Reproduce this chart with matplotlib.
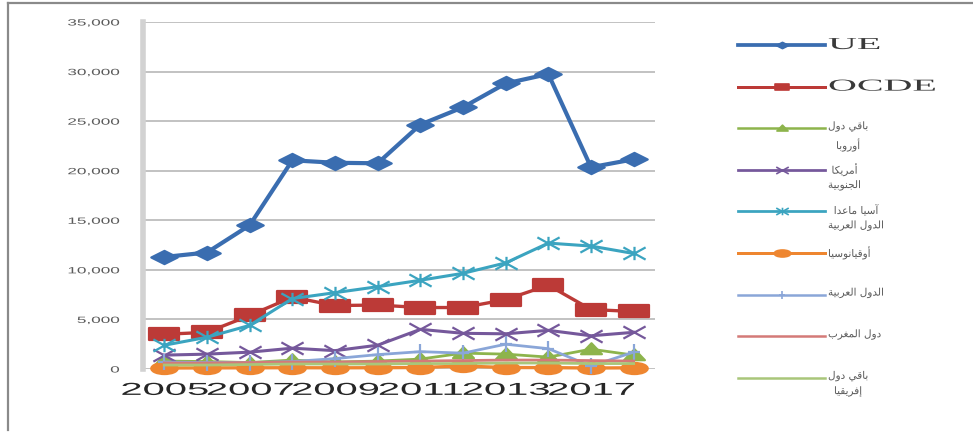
import matplotlib
matplotlib.use("Agg")
import matplotlib.pyplot as plt
from matplotlib.path import Path
from matplotlib.transforms import Affine2D
from matplotlib.patheffects import AbstractPathEffect
from matplotlib.lines import Line2D
from matplotlib.ticker import StrMethodFormatter

# data
years = ["2005", "2006", "2007", "2008", "2009", "2010", "2011", "2012",
         "2013", "2014", "2017", "2018"]
ue = [11300, 11750, 14500, 21050, 20800, 20750, 24650, 26400, 28800, 29750, 20350, 21150]
ocde = [3500, 3700, 5400, 7250, 6400, 6450, 6200, 6200, 7000, 8450, 6000, 5800]
europe_rest = [800, 750, 650, 900, 700, 800, 1000, 1600, 1500, 1200, 2000, 1400]
south_america = [1400, 1500, 1700, 2100, 1850, 2400, 4000, 3600, 3550, 3900, 3350, 3700]
asia = [2400, 3200, 4400, 7100, 7700, 8300, 8950, 9650, 10700, 12700, 12400, 11650]
oceania = [100, 110, 120, 130, 120, 130, 150, 300, 150, 140, 100, 120]
arab = [700, 650, 650, 750, 1050, 1450, 1750, 1600, 2500, 2050, 300, 1700]
maghreb = [600, 600, 650, 700, 700, 750, 800, 850, 900, 900, 850, 800]
africa_rest = [400, 400, 450, 500, 500, 500, 550, 550, 600, 600, 550, 550]

labels = ["UE", "OCDE", "باقي دول\nأوروبا", "أمريكا\nالجنوبية",
          "آسيا ماعدا\nالدول العربية", "أوقيانوسيا", "الدول العربية",
          "دول المغرب", "باقي دول\nإفريقيا"]

# arabic shaping (presentation forms, visual order) since matplotlib has no bidi
FORMS = {
    "ا": (0xFE8D, 0xFE8E, None, None), "أ": (0xFE83, 0xFE84, None, None),
    "آ": (0xFE81, 0xFE82, None, None), "إ": (0xFE87, 0xFE88, None, None),
    "ب": (0xFE8F, 0xFE90, 0xFE91, 0xFE92), "ة": (0xFE93, 0xFE94, None, None),
    "ج": (0xFE9D, 0xFE9E, 0xFE9F, 0xFEA0), "د": (0xFEA9, 0xFEAA, None, None),
    "ر": (0xFEAD, 0xFEAE, None, None), "س": (0xFEB1, 0xFEB2, 0xFEB3, 0xFEB4),
    "ع": (0xFEC9, 0xFECA, 0xFECB, 0xFECC), "غ": (0xFECD, 0xFECE, 0xFECF, 0xFED0),
    "ف": (0xFED1, 0xFED2, 0xFED3, 0xFED4), "ق": (0xFED5, 0xFED6, 0xFED7, 0xFED8),
    "ك": (0xFED9, 0xFEDA, 0xFEDB, 0xFEDC), "ل": (0xFEDD, 0xFEDE, 0xFEDF, 0xFEE0),
    "م": (0xFEE1, 0xFEE2, 0xFEE3, 0xFEE4), "ن": (0xFEE5, 0xFEE6, 0xFEE7, 0xFEE8),
    "و": (0xFEED, 0xFEEE, None, None), "ي": (0xFEF1, 0xFEF2, 0xFEF3, 0xFEF4),
}


def shape_line(line):
    out = []
    for i, ch in enumerate(line):
        if ch not in FORMS:
            out.append(ch)
            continue
        iso, fin, ini, med = FORMS[ch]
        prev = line[i - 1] if i > 0 else ""
        nxt = line[i + 1] if i + 1 < len(line) else ""
        jp = prev in FORMS and FORMS[prev][2] is not None
        jn = ini is not None and nxt in FORMS
        if jp and jn:
            out.append(chr(med))
        elif jp:
            out.append(chr(fin))
        elif jn:
            out.append(chr(ini))
        else:
            out.append(chr(iso))
    return "".join(reversed(out))


def shape(text):
    return "\n".join(shape_line(l) for l in text.split("\n"))


# the reference is stretched sideways, so stretch the glyphs too
class Stretch(AbstractPathEffect):
    def __init__(self, sx, anchor="center"):
        super().__init__()
        self.sx = sx
        self.anchor = anchor

    def draw_path(self, renderer, gc, tpath, affine, rgbFace=None):
        xs = tpath.vertices[:, 0]
        w = xs.max() if len(xs) else 0
        x0 = {"left": 0, "center": w / 2, "right": w}[self.anchor]
        t = Affine2D().translate(-x0, 0).scale(self.sx, 1).translate(x0, 0)
        renderer.draw_path(gc, tpath, t + affine, rgbFace)


# wide marker shapes
M, L = Path.MOVETO, Path.LINETO
diamond = Path([(-1, 0), (0, 0.5), (1, 0), (0, -0.5), (-1, 0)], closed=True)
rect = Path([(-1, -0.42), (1, -0.42), (1, 0.42), (-1, 0.42), (-1, -0.42)], closed=True)
tri = Path([(-1, -0.45), (0, 0.6), (1, -0.45), (-1, -0.45)], closed=True)
oval = Path.unit_circle().transformed(Affine2D().scale(1, 0.42))
xmark = Path([(-1, -0.55), (1, 0.55), (-1, 0.55), (1, -0.55)], [M, L, M, L])
star = Path([(-1, -0.55), (1, 0.55), (-1, 0.55), (1, -0.55), (0, -0.6), (0, 0.6)],
            [M, L, M, L, M, L])
plus = Path([(-0.8, 0), (0.8, 0), (0, -1), (0, 1)], [M, L, M, L])

series = [ue, ocde, europe_rest, south_america, asia, oceania, arab, maghreb, africa_rest]
styles = [
    dict(color="#3A6DB0", lw=3.0, marker=diamond, ms=19, legms=9, filled=True),
    dict(color="#BC3A37", lw=2.4, marker=rect, ms=21, legms=10, filled=True),
    dict(color="#8DB44C", lw=2.0, marker=tri, ms=15, legms=8, filled=True),
    dict(color="#75589B", lw=2.2, marker=xmark, ms=16, legms=9, filled=False),
    dict(color="#3BA4C0", lw=2.2, marker=star, ms=16, legms=9, filled=False),
    dict(color="#EE8630", lw=2.4, marker=oval, ms=19, legms=12, filled=True),
    dict(color="#8AA6D8", lw=2.0, marker=plus, ms=11, legms=6, filled=False),
    dict(color="#D47A78", lw=2.0, marker=None, ms=0, legms=0, filled=True),
    dict(color="#A9C67A", lw=2.0, marker=None, ms=0, legms=0, filled=True),
]

fig = plt.figure(figsize=(9.73, 4.38), dpi=100)
ax = fig.add_axes([143 / 973, 1 - 369 / 438, (655 - 143) / 973, (369 - 22) / 438])

x = list(range(len(years)))
for vals, st in zip(series, styles):
    mfc = st["color"] if st["filled"] else "none"
    ax.plot(x, vals, color=st["color"], lw=st["lw"], marker=st["marker"],
            markersize=st["ms"], markerfacecolor=mfc, markeredgecolor=st["color"],
            markeredgewidth=1.6, clip_on=False, zorder=3)

ax.set_xlim(-0.5, len(years) - 0.5)
ax.set_ylim(0, 35000)
ax.set_yticks(range(0, 35001, 5000))
ax.yaxis.set_major_formatter(StrMethodFormatter("{x:,.0f}"))
ax.set_xticks(x[::2], labels=years[::2])
ax.grid(axis="y", color="#BDBDBD", lw=1.3)
ax.set_axisbelow(True)
for s in ["top", "right", "bottom"]:
    ax.spines[s].set_visible(False)
ax.spines["left"].set_color("#D2D2D2")
ax.spines["left"].set_linewidth(4)
ax.tick_params(axis="both", length=0)
ax.tick_params(axis="y", pad=17, labelsize=6.5, labelcolor="#5A5A5A")
ax.tick_params(axis="x", pad=10, labelsize=12.5, labelcolor="#262626")

for lab in ax.get_xticklabels():
    lab.set_fontfamily("Liberation Sans")
    lab.set_path_effects([Stretch(2.3, "center")])
for lab in ax.get_yticklabels():
    lab.set_fontfamily("Liberation Sans")
    lab.set_path_effects([Stretch(1.9, "right")])

# legend on the right, one row every ~41.6 px
for i, (st, lab) in enumerate(zip(styles, labels)):
    yf = 1 - (45 + 41.6 * i) / 438
    fig.add_artist(Line2D([738 / 973, 825 / 973], [yf, yf], color=st["color"],
                          lw=st["lw"] * 0.9, transform=fig.transFigure))
    if st["marker"] is not None:
        mfc = st["color"] if st["filled"] else "none"
        fig.add_artist(Line2D([781.5 / 973], [yf], marker=st["marker"],
                              markersize=st["legms"], markerfacecolor=mfc,
                              markeredgecolor=st["color"], markeredgewidth=1.2,
                              transform=fig.transFigure))
    if i < 2:
        t = fig.text(828 / 973, yf, lab, ha="left", va="center", fontsize=12,
                     family="Liberation Serif", color="#3A3A3A")
        t.set_path_effects([Stretch(2.4, "left")])
    else:
        t = fig.text(828 / 973, yf + 7 / 438, shape(lab), ha="left", va="top",
                     fontsize=7.5, family="DejaVu Sans", color="#5A5A5A",
                     linespacing=1.55, multialignment="center")
        t.set_path_effects([Stretch(1.0, "left")])

# outer frame: only top and left edges show
fig.add_artist(Line2D([8 / 973, 1], [1 - 3 / 438, 1 - 3 / 438], color="#8A8A8A",
                      lw=1.6, transform=fig.transFigure))
fig.add_artist(Line2D([8 / 973, 8 / 973], [1 - 3 / 438, 8 / 438], color="#8A8A8A",
                      lw=1.6, transform=fig.transFigure))

fig.savefig("out.png", dpi=100)
